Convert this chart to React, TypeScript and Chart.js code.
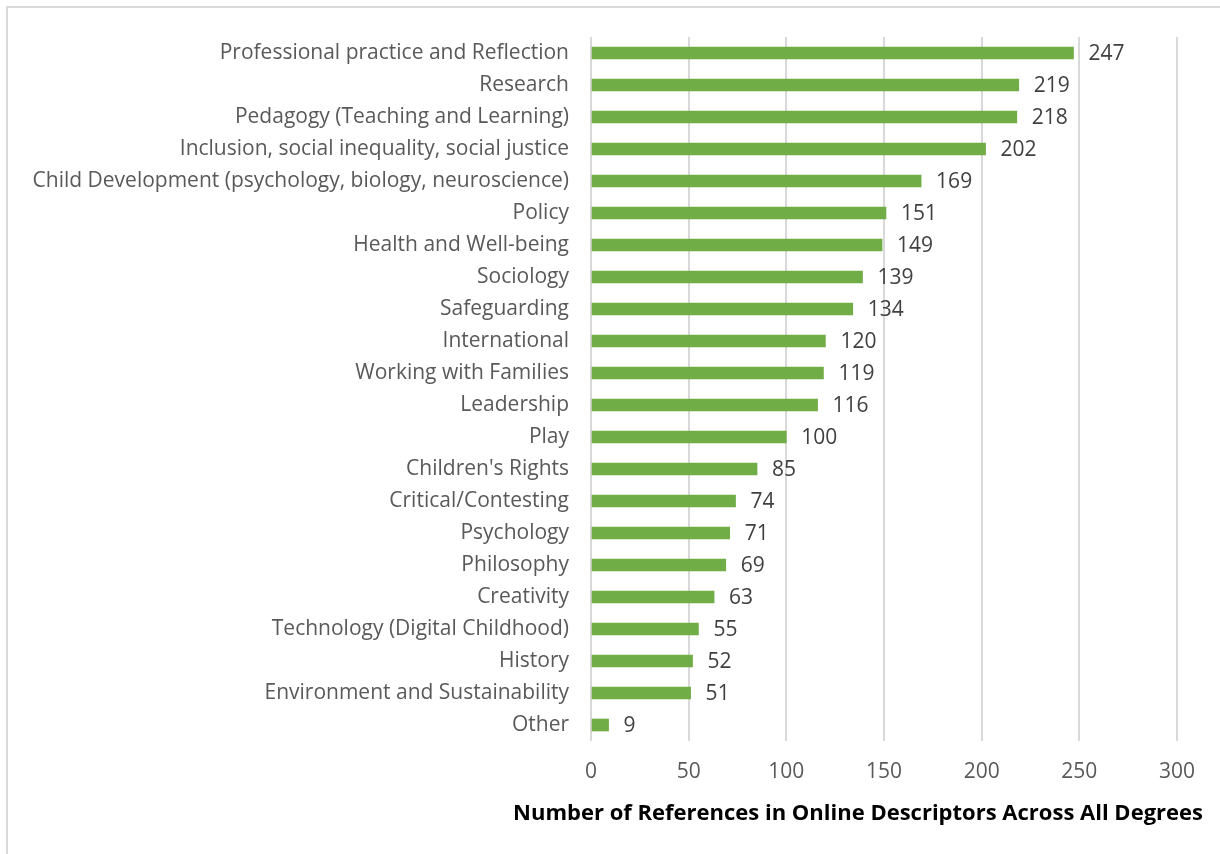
import React, { useEffect, useRef } from "react";
import { Chart, registerables } from "chart.js";

Chart.register(...registerables);

const categories = [
  "Professional practice and Reflection",
  "Research",
  "Pedagogy (Teaching and Learning)",
  "Inclusion, social inequality, social justice",
  "Child Development (psychology, biology, neuroscience)",
  "Policy",
  "Health and Well-being",
  "Sociology",
  "Safeguarding",
  "International",
  "Working with Families",
  "Leadership",
  "Play",
  "Children's Rights",
  "Critical/Contesting",
  "Psychology",
  "Philosophy",
  "Creativity",
  "Technology (Digital Childhood)",
  "History",
  "Environment and Sustainability",
  "Other",
];

const references = [247, 219, 218, 202, 169, 151, 149, 139, 134, 120, 119, 116, 100, 85, 74, 71, 69, 63, 55, 52, 51, 9];

const xAxisTitle = "Number of References in Online Descriptors Across All Degrees";

const FONT = "'Open Sans', 'Noto Sans', sans-serif";

const valueLabelPlugin = {
  id: "valueLabels",
  afterDatasetsDraw(chart: any) {
    const ctx = chart.ctx;
    const meta = chart.getDatasetMeta(0);
    const data = chart.data.datasets[0].data as number[];
    ctx.save();
    ctx.font = `21px ${FONT}`;
    ctx.fillStyle = "#404040";
    ctx.textAlign = "left";
    ctx.textBaseline = "middle";
    meta.data.forEach((bar: any, i: number) => {
      ctx.fillText(String(data[i]), bar.x + 15, bar.y + 1);
    });
    ctx.restore();
  },
};

const axisTitlePlugin = {
  id: "axisTitle",
  afterDraw(chart: any) {
    const ctx = chart.ctx;
    ctx.save();
    ctx.font = `bold 22px ${FONT}`;
    ctx.fillStyle = "#000000";
    ctx.textAlign = "right";
    ctx.textBaseline = "middle";
    ctx.fillText(xAxisTitle, chart.width - 17, 814);
    ctx.restore();
  },
};

export default function App() {
  const canvasRef = useRef<HTMLCanvasElement | null>(null);

  useEffect(() => {
    document.body.style.margin = "0";
    const canvas = canvasRef.current;
    if (!canvas) return;
    const chart = new Chart(canvas, {
      type: "bar",
      data: {
        labels: categories,
        datasets: [
          {
            data: references,
            backgroundColor: "#70AD47",
            barThickness: 12,
          },
        ],
      },
      options: {
        indexAxis: "y",
        animation: false,
        responsive: false,
        maintainAspectRatio: false,
        layout: { padding: { left: 0, right: 43, top: 37, bottom: 0 } },
        plugins: {
          legend: { display: false },
          tooltip: { enabled: false },
        },
        scales: {
          x: {
            min: 0,
            max: 300,
            ticks: {
              stepSize: 50,
              color: "#595959",
              font: { family: FONT, size: 21 },
              padding: 18,
            },
            grid: { color: "#d9d9d9", lineWidth: 2, drawTicks: false },
            border: { display: false },
            afterFit(scale: any) {
              scale.height = 113;
            },
          },
          y: {
            ticks: {
              color: "#595959",
              font: { family: FONT, size: 21 },
              padding: 22,
              autoSkip: false,
            },
            grid: { display: false, drawTicks: false },
            border: { display: false },
            afterFit(scale: any) {
              scale.width = 591;
            },
          },
        },
      },
      plugins: [valueLabelPlugin, axisTitlePlugin],
    });
    return () => chart.destroy();
  }, []);

  return (
    <div style={{ position: "fixed", left: 0, top: 0, width: 1220, height: 854, background: "#ffffff", overflow: "hidden" }}>
      <div
        style={{
          position: "absolute",
          left: 6,
          top: 6,
          width: 1400,
          height: 1000,
          border: "2px solid #d9d9d9",
        }}
      />
      <canvas
        ref={canvasRef}
        width={1220}
        height={854}
        style={{ position: "absolute", left: 0, top: 0, width: 1220, height: 854 }}
      />
    </div>
  );
}
